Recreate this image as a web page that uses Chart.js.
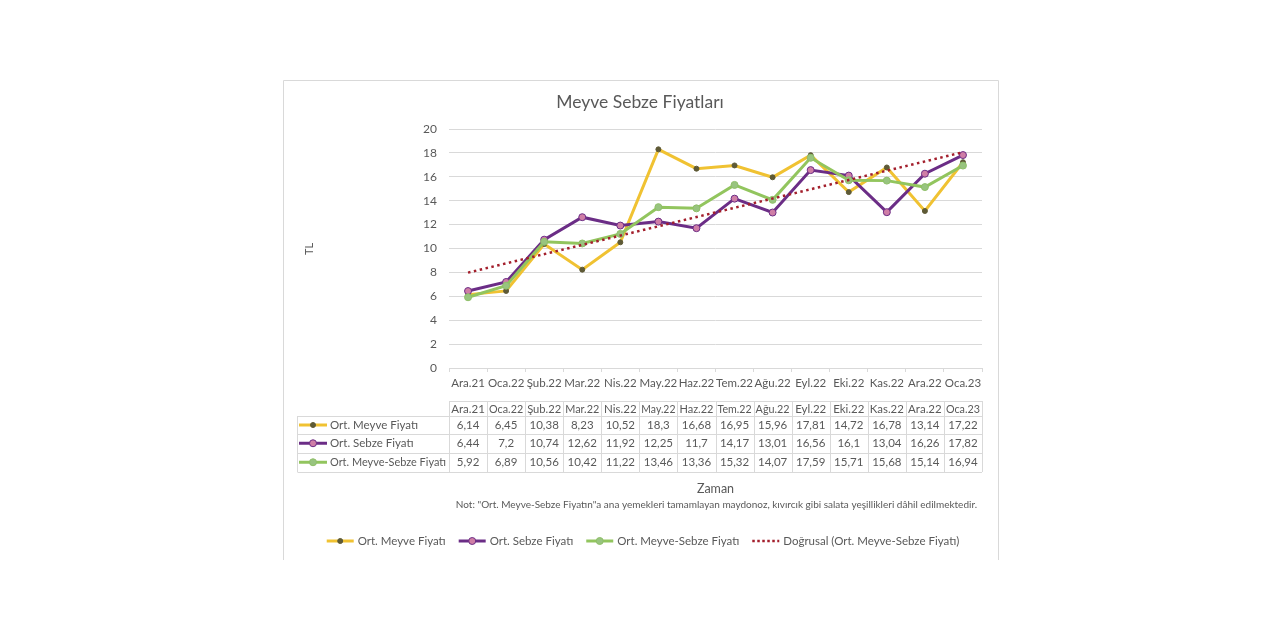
<!DOCTYPE html>
<html><head><meta charset="utf-8">
<script src="https://cdn.jsdelivr.net/npm/chart.js@4.4.0/dist/chart.umd.min.js"></script>
<style>html,body{margin:0;padding:0;background:#fff;}#wrap{width:1280px;height:640px;position:relative;}</style>
</head><body><div id="wrap"><canvas id="c" width="1280" height="640"></canvas></div>
<script>
const categories = ['Ara.21','Oca.22','Şub.22','Mar.22','Nis.22','May.22','Haz.22','Tem.22','Ağu.22','Eyl.22','Eki.22','Kas.22','Ara.22','Oca.23'];
const meyve = [6.14,6.45,10.38,8.23,10.52,18.3,16.68,16.95,15.96,17.81,14.72,16.78,13.14,17.22];
const sebze = [6.44,7.2,10.74,12.62,11.92,12.25,11.7,14.17,13.01,16.56,16.1,13.04,16.26,17.82];
const meyveSebze = [5.92,6.89,10.56,10.42,11.22,13.46,13.36,15.32,14.07,17.59,15.71,15.68,15.14,16.94];
const trend = [7.98,null,null,null,null,null,null,null,null,null,null,null,null,18.06];
const yTicks = [0,2,4,6,8,10,12,14,16,18,20];
const seriesNames = ['Ort. Meyve Fiyatı','Ort. Sebze Fiyatı','Ort. Meyve-Sebze Fiyatı'];
const trendName = 'Doğrusal (Ort. Meyve-Sebze Fiyatı)';
const titleText = 'Meyve Sebze Fiyatları';
const yTitle = 'TL';
const xTitle = 'Zaman';
const noteText = 'Not: "Ort. Meyve-Sebze Fiyatın"a ana yemekleri tamamlayan maydonoz, kıvırcık gibi salata yeşillikleri dâhil edilmektedir.';

const FONT = 'Lato, "Open Sans", sans-serif';
const TXT = '#595959';
const GRID = '#d9d9d9';
const styles = [
  {line:'#f0c232', fill:'#5e5a36', border:'#5e5a36', r:2.5},
  {line:'#6b2d86', fill:'#cf7ea6', border:'#6b2d86', r:3.5},
  {line:'#92c55e', fill:'#98c47f', border:'#8fbf68', r:3.5}
];
const trendColor = '#a31f2c';
const seriesData = [meyve, sebze, meyveSebze];

function fmt(v){ return String(v).replace('.', ','); }

function drawKey(ctx, x0, x1, y, i){
  const s = styles[i];
  ctx.save();
  ctx.strokeStyle = s.line; ctx.lineWidth = 3;
  ctx.beginPath(); ctx.moveTo(x0, y); ctx.lineTo(x1, y); ctx.stroke();
  ctx.beginPath(); ctx.arc((x0+x1)/2, y, s.r, 0, Math.PI*2);
  ctx.fillStyle = s.fill; ctx.fill();
  ctx.lineWidth = 1; ctx.strokeStyle = s.border; ctx.stroke();
  ctx.restore();
}

function fitText(ctx, text, x, y, maxW){
  const w = ctx.measureText(text).width;
  if (w <= maxW) { ctx.fillText(text, x, y); return; }
  ctx.save();
  ctx.translate(x, y); ctx.scale(maxW / w, 1);
  ctx.fillText(text, 0, 0);
  ctx.restore();
}

const decor = {
  id: 'decor',
  afterDraw(chart){
    const ctx = chart.ctx;
    const xs = chart.scales.x;
    const area = chart.chartArea;
    ctx.save();
    ctx.strokeStyle = GRID; ctx.lineWidth = 1;
    ctx.beginPath();
    ctx.moveTo(283.5, 560); ctx.lineTo(283.5, 80.5); ctx.lineTo(998.5, 80.5); ctx.lineTo(998.5, 560);
    ctx.stroke();
    ctx.fillStyle = TXT; ctx.font = '17.5px ' + FONT;
    ctx.textAlign = 'center'; ctx.textBaseline = 'middle';
    ctx.fillText(titleText, 640, 102);
    ctx.save();
    ctx.translate(309, 249); ctx.rotate(-Math.PI/2);
    ctx.font = '11px ' + FONT; ctx.fillText(yTitle, 0, 0);
    ctx.restore();
    const n = categories.length;
    const w = (area.right - area.left) / n;
    const rows = [401, 416, 434, 452.5, 472];
    const tLeft = 297.5;
    ctx.strokeStyle = GRID; ctx.lineWidth = 1;
    ctx.beginPath();
    ctx.moveTo(area.left, rows[0]+0.5); ctx.lineTo(area.right, rows[0]+0.5);
    for (let r = 1; r < rows.length; r++){ ctx.moveTo(tLeft, Math.round(rows[r])+0.5); ctx.lineTo(area.right, Math.round(rows[r])+0.5); }
    ctx.moveTo(tLeft, rows[1]); ctx.lineTo(tLeft, rows[4]);
    for (let c = 0; c <= n; c++){
      const x = Math.round(area.left + c*w) + 0.5;
      ctx.moveTo(x, rows[0]); ctx.lineTo(x, rows[4]);
    }
    ctx.stroke();
    ctx.fillStyle = TXT; ctx.font = '11.5px ' + FONT; ctx.textAlign = 'center'; ctx.textBaseline = 'middle';
    for (let c = 0; c < n; c++){
      const cx = xs.getPixelForValue(c);
      fitText(ctx, categories[c], cx, (rows[0]+rows[1])/2 + 0.5, w - 4);
      for (let s = 0; s < 3; s++){
        ctx.fillText(fmt(seriesData[s][c]), cx, (rows[s+1]+rows[s+2])/2 + 0.5);
      }
    }
    ctx.textAlign = 'left';
    for (let s = 0; s < 3; s++){
      const cy = (rows[s+1]+rows[s+2])/2;
      drawKey(ctx, 299, 327, cy, s);
      ctx.fillStyle = TXT;
      fitText(ctx, seriesNames[s], 330, cy + 0.5, area.left - 333);
    }
    ctx.textAlign = 'center';
    ctx.font = '12.5px ' + FONT;
    ctx.fillText(xTitle, (area.left + area.right)/2, 489);
    ctx.font = '10px ' + FONT; ctx.textAlign = 'right';
    ctx.fillText(noteText, 977, 505);
    ctx.font = '11.5px ' + FONT; ctx.textAlign = 'left';
    const labels = seriesNames.concat([trendName]);
    const keyW = 27, gapK = 4, gapI = 13;
    let total = 0;
    labels.forEach((l, i) => { total += keyW + gapK + ctx.measureText(l).width + (i < labels.length-1 ? gapI : 0); });
    let x = 643 - total/2;
    const ly = 541;
    labels.forEach((l, i) => {
      if (i < 3) drawKey(ctx, x, x+keyW, ly, i);
      else {
        ctx.save(); ctx.strokeStyle = trendColor; ctx.lineWidth = 2.5; ctx.setLineDash([2.5, 2.5]);
        ctx.beginPath(); ctx.moveTo(x, ly); ctx.lineTo(x+keyW, ly); ctx.stroke(); ctx.restore();
      }
      x += keyW + gapK;
      ctx.fillStyle = TXT;
      ctx.fillText(l, x, ly + 0.5);
      x += ctx.measureText(l).width + gapI;
    });
    ctx.restore();
  }
};

const datasets = seriesData.map((d, i) => ({
  label: seriesNames[i], data: d,
  borderColor: styles[i].line, borderWidth: 3,
  pointBackgroundColor: styles[i].fill, pointBorderColor: styles[i].border,
  pointBorderWidth: 1, pointRadius: styles[i].r, tension: 0,
  order: 4 - i
}));
datasets.push({
  label: trendName, data: trend, spanGaps: true,
  borderColor: trendColor, borderWidth: 2.5, borderDash: [2.5, 3.5],
  pointRadius: 0, order: 0
});

new Chart(document.getElementById('c'), {
  type: 'line',
  data: { labels: categories, datasets },
  options: {
    responsive: false, animation: false,
    layout: { padding: { left: 300, right: 298, top: 129, bottom: 242 } },
    plugins: { legend: { display: false }, title: { display: false }, tooltip: { enabled: false } },
    scales: {
      x: {
        offset: true,
        grid: { offset: true, drawOnChartArea: false, drawTicks: true, tickLength: 4, color: GRID },
        border: { display: true, color: GRID },
        ticks: { color: TXT, font: { family: FONT, size: 11.5 }, padding: 4, maxRotation: 0, autoSkip: false },
        afterFit(s){ s.height = 30; }
      },
      y: {
        min: 0, max: 20,
        afterBuildTicks(s){ s.ticks = yTicks.map(v => ({ value: v })); },
        grid: { color: GRID, drawTicks: false },
        border: { display: false },
        ticks: { color: TXT, font: { family: FONT, size: 12 }, padding: 12 },
        afterFit(s){ s.width = 149; }
      }
    }
  },
  plugins: [decor]
});
</script>
</body></html>
